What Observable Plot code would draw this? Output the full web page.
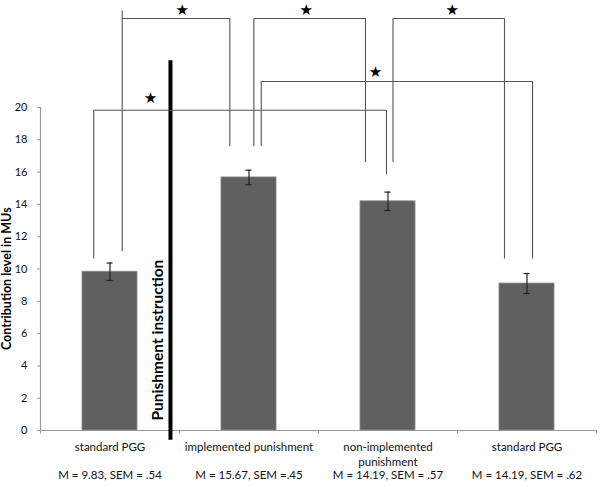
<!DOCTYPE html>
<html>
<head>
<meta charset="utf-8">
<script src="https://cdn.jsdelivr.net/npm/d3@7"></script>
<script src="https://cdn.jsdelivr.net/npm/@observablehq/plot@0.6"></script>
<style>
  html, body { margin: 0; padding: 0; background: #fff; }
  #chart { width: 600px; height: 487px; }
</style>
</head>
<body>
<div id="chart"></div>
<script>
// ---- data ----
const categories = ["standard PGG", "implemented punishment", "non-implemented\npunishment", "standard PGG"];
const means = [9.83, 15.67, 14.19, 9.1];
const sems = [0.54, 0.45, 0.57, 0.62];
const statLabels = ["M = 9.83, SEM = .54", "M = 15.67, SEM =.45", "M = 14.19, SEM = .57", "M = 14.19, SEM = .62"];
const yTicks = [0, 2, 4, 6, 8, 10, 12, 14, 16, 18, 20];
const yLabel = "Contribution level in MUs";
const dividerLabel = "Punishment instruction";

// significance brackets: from/to category index, offsets from bar centre, bracket level, end heights
const bracketFrom     = [0, 1, 2, 1, 0];
const bracketFromOff  = [0.088, 0.035, 0.036, 0.088, -0.117];
const bracketTo       = [1, 2, 3, 3, 2];
const bracketToOff    = [-0.138, -0.162, -0.162, 0.04, -0.011];
const bracketLevel    = [25.51, 25.51, 25.51, 21.61, 19.83];
const bracketFromEnd  = [11.14, 17.64, 16.66, 17.64, 10.68];
const bracketToEnd    = [17.64, 16.66, 10.68, 10.68, 15.9];
const starX           = [1.019, 1.911, 2.962, 2.41, 0.791];
const starY           = [26.05, 26.05, 26.05, 22.19, 20.6];

// ---- build tables ----
const bars = categories.map((c, i) => ({i, c, mean: means[i], sem: sems[i], stat: statLabels[i], cx: i + 0.5}));
const halfW = 0.198;
const bracketPts = [];
bracketFrom.forEach((f, k) => {
  const x1 = f + 0.5 + bracketFromOff[k];
  const x2 = bracketTo[k] + 0.5 + bracketToOff[k];
  const top = bracketLevel[k];
  bracketPts.push({k, x: x1, y: bracketFromEnd[k]});
  bracketPts.push({k, x: x1, y: top});
  bracketPts.push({k, x: x2, y: top});
  bracketPts.push({k, x: x2, y: bracketToEnd[k]});
});
const stars = starX.map((x, k) => ({x, y: starY[k]}));

const gray = "#9a9a9a";
const chart = Plot.plot({
  width: 600,
  height: 487,
  marginLeft: 40,
  marginRight: 4,
  marginTop: 0,
  marginBottom: 57,
  style: {fontFamily: "Lato, 'Open Sans', sans-serif", fontSize: "11px", color: "#111", background: "#fff"},
  x: {type: "linear", domain: [0, 4], axis: null},
  y: {domain: [0, 26.625], axis: null},
  marks: [
    // axes
    Plot.ruleX([0], {y1: -0.15, y2: 20, stroke: gray, strokeWidth: 1.2}),
    Plot.ruleY([0], {x1: 0, x2: 4, stroke: gray, strokeWidth: 1.2}),
    Plot.ruleX([0, 1, 2, 3, 4], {y1: 0, y2: -0.22, stroke: gray}),
    Plot.axisY({ticks: yTicks, tickSize: 3, tickPadding: 10, stroke: gray, fontSize: 11, label: null}),
    // bars
    Plot.rectY(bars, {x1: d => d.cx - halfW, x2: d => d.cx + halfW, y: "mean", fill: "#606060", stroke: "#8c8c8c", strokeWidth: 0.8}),
    // error bars
    Plot.ruleX(bars, {x: "cx", y1: d => d.mean - d.sem, y2: d => d.mean + d.sem, stroke: "#222", strokeWidth: 1.2}),
    Plot.ruleY(bars, {y: d => d.mean - d.sem, x1: d => d.cx - 0.022, x2: d => d.cx + 0.022, stroke: "#222", strokeWidth: 1.2}),
    Plot.ruleY(bars, {y: d => d.mean + d.sem, x1: d => d.cx - 0.022, x2: d => d.cx + 0.022, stroke: "#222", strokeWidth: 1.2}),
    // divider
    Plot.ruleX([0.935], {y1: -0.6, y2: 22.9, stroke: "#000", strokeWidth: 4}),
    Plot.text([dividerLabel], {x: 0.842, y: 5.6, text: d => d, rotate: -90, fontSize: 15.5, fontWeight: "bold", fill: "#000"}),
    // brackets
    Plot.line(bracketPts, {x: "x", y: "y", z: "k", stroke: "#555", strokeWidth: 1.1, curve: "linear"}),
    Plot.ruleX([bracketFrom[0] + 0.5 + bracketFromOff[0]], {y1: bracketLevel[0], y2: 25.98, stroke: "#555", strokeWidth: 1.1}),
    Plot.text(stars, {x: "x", y: "y", text: () => "\u2605", fontSize: 15, fontFamily: "DejaVu Sans", fill: "#000"}),
    // category labels
    Plot.text(bars, {x: "cx", y: 0, dy: 10, text: "c", lineAnchor: "top", lineHeight: 1.3, fontSize: 11.5}),
    Plot.text(bars, {x: "cx", y: 0, dy: 45, text: "stat", lineAnchor: "middle", fontSize: 11.5}),
    // y label
    Plot.text([yLabel], {frameAnchor: "left", y: 9.4, dx: -34, text: d => d, rotate: -90, textAnchor: "middle", fontSize: 12.5, fontWeight: "bold", fill: "#000"})
  ]
});
document.getElementById("chart").appendChild(chart);
</script>
</body>
</html>
